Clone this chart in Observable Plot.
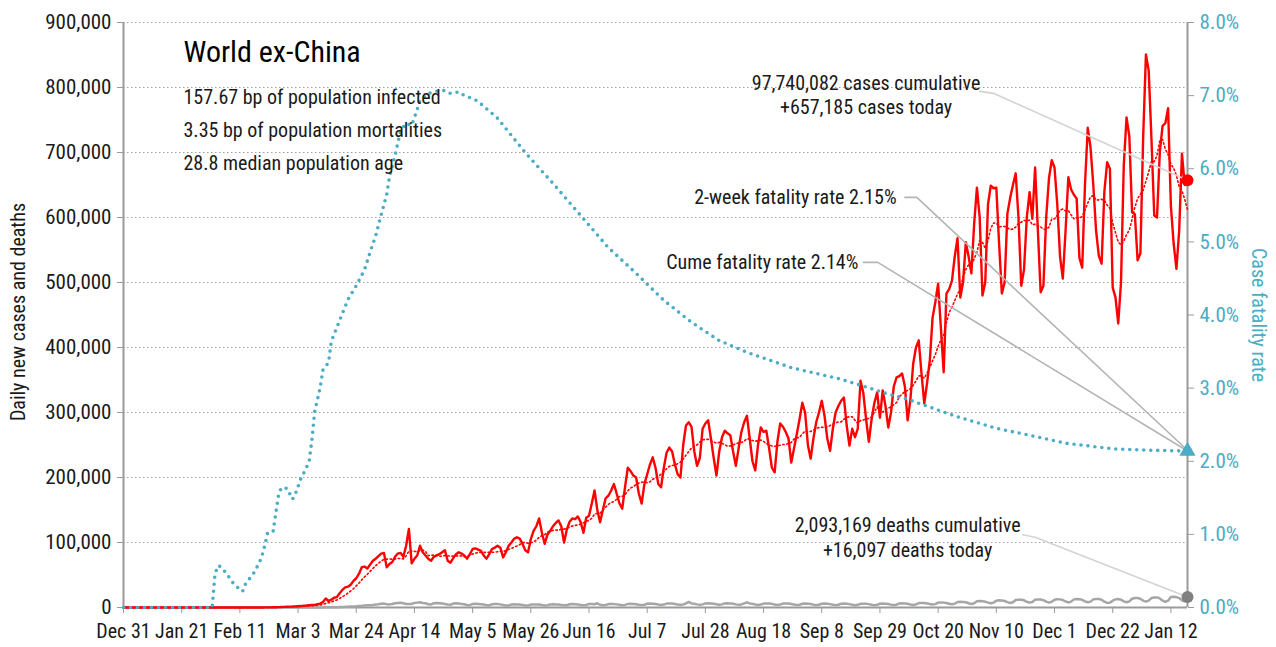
<!DOCTYPE html>
<html><head><meta charset="utf-8">
<script src="https://cdn.jsdelivr.net/npm/d3@7"></script>
<script src="https://cdn.jsdelivr.net/npm/@observablehq/plot@0.6"></script>
<style>
html,body{margin:0;padding:0;background:#fff;}
#chart svg{display:block;}
</style></head><body><div id="chart"></div>
<script>
// ---------- data ----------
const startDay = "2019-12-31";          // day 0
// daily new cases, thousands, day 0 .. 384
const casesK = [
0,0,0,0,0,0,0,0,0,0,0,0,0,0.001,0,0.001,0,0,0.002,0.001,0.002,
0.003,0.003,0.002,0.005,0.008,0.006,0.012,0.01,0.015,0.02,0.018,0.025,0.02,0.015,0.022,0.018,0.02,0.025,0.015,0.02,
0.02,0.025,0.03,0.035,0.04,0.045,0.05,0.06,0.07,0.09,0.12,0.16,0.21,0.3,0.4,0.55,0.75,0.95,1.15,1.4,
1.5,1.8,2.0,2.2,2.6,3.0,3.6,3.9,4.0,5.0,
6.0,8.5,14,10,12,15,16,22,27,31,
32,35,41,45,52,62,63,60,66,72,
75,79,83,84,62,67,70,78,83,84,
78,95,121,68,75,80,95,85,80,75,
72,78,80,82,85,88,72,69,76,82,
85,83,80,75,82,90,91,89,87,80,
75,82,90,92,95,92,77,85,95,100,
106,108,106,98,88,85,105,118,125,137,
115,98,112,118,125,130,134,125,100,120,
132,137,136,140,131,115,138,141,160,180,
150,131,150,168,172,180,190,175,160,152,
185,215,210,203,200,175,160,190,205,220,
231,215,190,185,215,238,246,240,220,205,
200,250,280,285,278,240,218,230,275,283,
288,260,230,203,240,262,272,268,265,240,
218,245,270,285,295,260,225,211,250,277,
270,272,245,215,208,255,283,278,270,260,
223,245,267,290,315,300,250,229,260,285,
300,318,295,260,241,275,300,310,318,323,
280,249,275,262,275,349,330,290,255,290,
315,331,292,334,310,277,300,340,354,356,
360,340,288,320,375,400,411,360,314,345,
380,446,470,498,430,362,483,490,503,540,
568,477,500,562,540,514,590,646,600,480,
500,620,649,645,646,560,483,500,606,630,
650,668,600,495,520,600,639,598,677,580,
485,495,600,660,688,677,620,540,506,580,
662,643,635,629,538,523,650,738,708,650,
580,541,529,640,685,675,492,477,437,500,
680,754,725,608,605,534,545,723,851,826,
720,603,600,700,741,745,768,618,560,521,
580,698,650,657.185
];
// daily new deaths, thousands, day 0 .. 384
const deathsK = [
0,0,0,0,0,0,0,0,0,0,0,0,0,0,0,0,0,0,0,0,0,
0,0,0,0,0,0,0,0,0,0,0,0,0,0,0,0,0,0,0,0,
0,0,0,0,0,0,0,0,0,0,0.001,0.001,0.002,0.002,0.003,0.004,0.005,0.006,0.008,0.009,
0.01,0.012,0.015,0.02,0.025,0.03,0.04,
0.05,0.06,0.08,0.1,0.15,0.2,0.25,
0.3,0.4,0.5,0.65,0.8,1.0,1.3,
1.5,1.7,2.0,2.4,2.7,3.2,3.5,
3.6,3.9,4.5,5.0,5.8,6.0,5.0,
4.8,5.5,6.5,7.0,7.2,6.5,5.5,
5.2,5.4,7.0,7.5,8.0,7.0,6.5,
5.0,4.8,6.5,7.0,6.5,6.0,5.5,
4.5,4.2,6.0,6.5,6.0,5.5,5.0,
3.8,3.6,5.5,5.8,5.5,5.0,4.5,
3.5,3.3,5.0,5.3,5.2,4.8,4.0,
3.2,3.0,4.8,5.0,4.8,4.5,3.8,
3.0,3.2,4.5,4.8,4.7,4.5,3.8,
3.2,3.5,4.8,5.0,4.8,4.5,3.9,
3.3,3.5,5.0,5.2,5.0,4.5,4.0,
3.4,3.8,5.5,5.3,5.0,6.5,4.2,
3.5,3.8,5.2,5.4,5.2,4.8,4.2,
3.6,4.0,5.5,5.6,5.4,5.0,4.3,
3.8,4.2,5.8,6.0,5.8,5.3,4.5,
4.0,4.5,6.0,6.2,6.0,5.5,4.7,
4.2,4.7,6.2,8.5,6.2,5.7,4.8,
4.3,4.8,6.3,6.5,6.3,5.8,5.0,
4.3,4.8,6.3,6.5,6.2,5.8,4.8,
4.2,4.7,6.3,8.0,6.2,5.6,4.7,
4.0,4.5,6.0,6.3,6.0,5.6,4.6,
4.0,4.5,6.0,6.2,6.0,5.5,4.5,
3.9,4.3,5.8,6.0,5.8,5.3,4.4,
3.8,4.3,5.8,6.0,5.8,5.2,4.3,
3.7,4.2,5.7,6.0,5.7,5.2,4.3,
3.6,4.1,5.6,5.9,5.6,5.2,4.3,
3.6,4.1,5.8,6.0,5.8,5.3,4.4,
3.8,4.3,6.2,6.4,6.2,5.7,4.7,
4.0,4.7,6.8,7.0,6.8,6.3,5.3,
4.5,5.2,7.5,7.8,7.5,7.0,5.8,
5.0,5.8,8.5,8.8,8.5,8.0,6.5,
5.5,6.5,9.5,10.0,9.8,9.0,7.5,
6.5,7.5,10.5,11.0,10.8,10.0,8.2,
7.0,8.0,11.5,12.0,11.8,11.0,8.8,
7.5,8.5,11.8,12.5,12.2,11.2,9.0,
7.5,8.8,12.0,12.8,12.5,11.5,9.2,
7.8,9.0,12.5,13.0,12.8,11.8,9.5,
8.0,9.0,12.5,13.2,13.0,12.0,9.0,
7.0,7.5,10.5,12.5,13.0,12.0,9.5,
8.0,9.5,13.5,14.5,14.5,13.5,10.5,
9.0,10.5,14.5,15.5,15.5,14.0,10.5,
8.5,10.5,16.0,16.5,16.0,14.5,11.0,
9.5,16.097
];
// cumulative case fatality rate (%), at day offsets
const cfrDays = [0,32,33,34,35,36,38,40,43,44,47,49,50,51,52,54,55,56,57,59,61,62,64,66,67,68,69,71,72,74,75,77,79,81,84,87,89,91,93,95,96,98,100,102,104,106,107,110,113,116,118,121,123,126,128,135,145,155,165,175,185,195,205,215,225,241,258,266,275,282,291,300,308,315,324,341,346,357,371,384];
const cfrPct  = [0,0,0.45,0.57,0.56,0.52,0.42,0.31,0.22,0.32,0.47,0.61,0.71,0.85,1.02,1.04,1.3,1.55,1.64,1.63,1.48,1.55,1.76,1.91,2.0,2.29,2.68,3.01,3.25,3.35,3.64,3.83,4.02,4.21,4.40,4.62,4.86,5.08,5.37,5.65,5.89,6.18,6.52,6.62,6.59,6.81,6.93,7.03,7.06,7.07,7.03,7.05,7.0,6.96,6.92,6.69,6.22,5.80,5.36,4.92,4.57,4.20,3.90,3.65,3.49,3.28,3.13,3.04,2.93,2.86,2.74,2.62,2.53,2.45,2.38,2.24,2.22,2.17,2.15,2.14];
const twoWeekCfr = 2.15;

// axes
const caseTicks = [0,100,200,300,400,500,600,700,800,900];   // thousands
const pctTicks  = [0,1,2,3,4,5,6,7,8];
const xTickDays = [0,21,42,63,84,105,126,147,168,189,210,231,252,273,294,315,336,357,378];
const lastDay = 384;

// texts
const titleText = "World ex-China";
const statLines = ["157.67 bp of population infected","3.35 bp of population mortalities","28.8 median population age"];
const yLabel = "Daily new cases and deaths";
const y2Label = "Case fatality rate";
const casesNote = "97,740,082 cases cumulative\n+657,185 cases today";
const deathsNote = "2,093,169 deaths cumulative\n+16,097 deaths today";
const twoWeekNote = "2-week fatality rate 2.15%";
const cumeNote = "Cume fatality rate 2.14%";

// annotation anchors (day offset, thousands of cases)
const noteAnchorDays   = {cases: 268,   deaths: 283,  twoWeek: 279,  cume: 265.2};
const noteAnchorValues = {cases: 789,   deaths: 110,  twoWeek: 631,  cume: 531};
const leaderDays   = {cases: [309, 314], deaths: [324.5, 329], twoWeek: [282, 286.3], cume: [267, 272.2]};
const leaderValues = {cases: [794, 791], deaths: [112, 108],  twoWeek: [631, 631],   cume: [531, 531]};

// ---------- build ----------
const t0 = new Date(startDay + "T00:00:00Z");
const day = (d) => new Date(t0.getTime() + d * 864e5);
const PCT = 900 / 8;   // thousands of cases per 1% on right axis

const cases  = casesK.map((v, i) => ({date: day(i), v}));
const deaths = deathsK.map((v, i) => ({date: day(i), v}));
const cfr    = cfrDays.map((d, i) => ({date: day(d), v: cfrPct[i] * PCT}));
const lastCase  = cases[cases.length - 1];
const lastDeath = deaths[deaths.length - 1];
const lastCfr   = cfr[cfr.length - 1];

function leader(key, end) {
  return [
    ...leaderDays[key].map((d, i) => ({date: day(d), v: leaderValues[key][i]})),
    end
  ];
}

const FONT = '"Liberation Sans Narrow","Roboto Condensed","DejaVu Sans Condensed","Arial Narrow",sans-serif';
const BLUE = "#4bacc6";
const AXIS = "#9a9a9a";
const INK = "#1a1a1a";

const chart = Plot.plot({
  width: 1276,
  height: 647,
  marginLeft: 123,
  marginRight: 89,
  marginTop: 22,
  marginBottom: 40,
  style: {fontFamily: FONT, fontSize: "20px", background: "#fff", color: INK},
  x: {type: "utc", domain: [day(0), day(lastDay)]},
  y: {domain: [0, 900]},
  marks: [
    Plot.gridY(caseTicks, {stroke: "#a0a0a0", strokeOpacity: 1, strokeWidth: 1, strokeDasharray: "1.5,2.5"}),
    Plot.axisX({ticks: xTickDays.map(day), tickFormat: d3.utcFormat("%b %-d"), tickSize: 6, tickPadding: 10,
                stroke: AXIS, fill: INK, fontSize: 20, label: null}),
    Plot.axisY({ticks: caseTicks, tickFormat: d => d3.format(",")(d * 1000), anchor: "left", tickSize: 6, tickPadding: 6,
                stroke: AXIS, fill: INK, fontSize: 21, label: null}),
    Plot.axisY({ticks: pctTicks.map(p => p * PCT), tickFormat: d => (d / PCT).toFixed(1) + "%", anchor: "right",
                tickSize: 6, tickPadding: 6, stroke: AXIS, fill: BLUE, fontSize: 21, label: null}),
    Plot.ruleY([0], {stroke: AXIS, strokeWidth: 2}),
    Plot.ruleX([day(0), day(lastDay)], {stroke: AXIS, strokeWidth: 2}),
    Plot.text([yLabel], {frameAnchor: "left", textAnchor: "middle", rotate: -90, dx: -105, dy: -3, fontSize: 20, fill: INK}),
    Plot.text([y2Label], {frameAnchor: "right", textAnchor: "middle", rotate: 90, dx: 71, fontSize: 20, fill: BLUE}),

    // series
    Plot.line(deaths, {x: "date", y: "v", stroke: "#a6a6a6", strokeWidth: 2.5}),
    Plot.line(cases, {x: "date", y: "v", stroke: "#ff0000", strokeWidth: 2.4}),
    Plot.line(cases, Plot.windowY({k: 7, anchor: "end"}, {x: "date", y: "v", stroke: "#ff0000", strokeWidth: 1.6, strokeDasharray: "1.5,2.6"})),
    Plot.line(cfr, {x: "date", y: "v", stroke: BLUE, strokeWidth: 3.6, strokeDasharray: "0,7", strokeLinecap: "round"}),

    // leaders
    Plot.line(leader("cases", lastCase), {x: "date", y: "v", stroke: "#d3d3d3", strokeWidth: 1.6}),
    Plot.line(leader("deaths", lastDeath), {x: "date", y: "v", stroke: "#d3d3d3", strokeWidth: 1.6}),
    Plot.line(leader("twoWeek", {date: lastCfr.date, v: twoWeekCfr * PCT}), {x: "date", y: "v", stroke: "#b4b4b4", strokeWidth: 1.6}),
    Plot.line(leader("cume", lastCfr), {x: "date", y: "v", stroke: "#b4b4b4", strokeWidth: 1.6}),

    // end markers
    Plot.dot([lastDeath], {x: "date", y: "v", r: 6, fill: "#808080"}),
    Plot.dot([lastCfr], {x: "date", y: "v", r: 6, symbol: "triangle", fill: BLUE}),
    Plot.dot([lastCfr], {x: "date", y: "v", r: 4.5, fill: BLUE}),
    Plot.dot([lastCase], {x: "date", y: "v", r: 6, fill: "#ff0000"}),

    // annotations
    Plot.text([casesNote], {x: day(noteAnchorDays.cases), y: noteAnchorValues.cases, textAnchor: "middle", lineAnchor: "middle", lineHeight: 1.2, fontSize: 20, fill: INK}),
    Plot.text([deathsNote], {x: day(noteAnchorDays.deaths), y: noteAnchorValues.deaths, textAnchor: "middle", lineAnchor: "middle", lineHeight: 1.25, fontSize: 20, fill: INK}),
    Plot.text([twoWeekNote], {x: day(noteAnchorDays.twoWeek), y: noteAnchorValues.twoWeek, textAnchor: "end", lineAnchor: "middle", fontSize: 20, fill: INK}),
    Plot.text([cumeNote], {x: day(noteAnchorDays.cume), y: noteAnchorValues.cume, textAnchor: "end", lineAnchor: "middle", fontSize: 20, fill: INK}),

    Plot.text([titleText], {frameAnchor: "top-left", dx: 60, dy: 30, textAnchor: "start", lineAnchor: "middle", fontSize: 30, fill: "#000"}),
    Plot.text([statLines[0]], {frameAnchor: "top-left", dx: 60, dy: 75, textAnchor: "start", lineAnchor: "middle", fontSize: 20, fill: INK}),
    Plot.text([statLines[1]], {frameAnchor: "top-left", dx: 60, dy: 108, textAnchor: "start", lineAnchor: "middle", fontSize: 20, fill: INK}),
    Plot.text([statLines[2]], {frameAnchor: "top-left", dx: 60, dy: 141, textAnchor: "start", lineAnchor: "middle", fontSize: 20, fill: INK})
  ]
});
document.getElementById("chart").appendChild(chart);
</script>
</body></html>
